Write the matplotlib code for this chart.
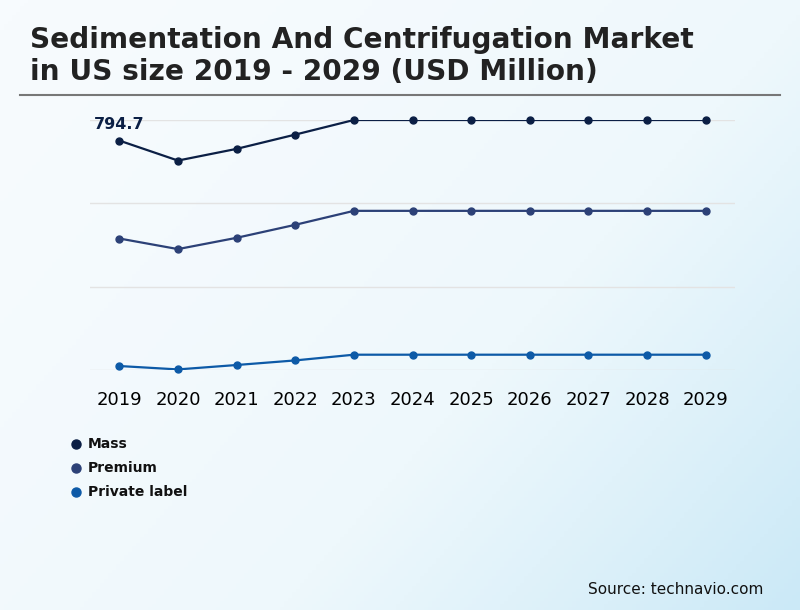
import numpy as np
import matplotlib
matplotlib.use('Agg')
import matplotlib.pyplot as plt
from matplotlib.colors import LinearSegmentedColormap

# data
years = [2019, 2020, 2021, 2022, 2023, 2024, 2025, 2026, 2027, 2028, 2029]
mass = [794.7, 725.5, 766.0, 815.4, 866.0, 866.0, 866.0, 866.0, 866.0, 866.0, 866.0]
premium = [455.5, 418.8, 457.9, 502.9, 551.3, 551.3, 551.3, 551.3, 551.3, 551.3, 551.3]
private_label = [13.8, 2.0, 17.3, 33.2, 53.0, 53.0, 53.0, 53.0, 53.0, 53.0, 53.0]
series_names = ['Mass', 'Premium', 'Private label']
colors = ['#0b1f45', '#2c4177', '#0d5aa7']
grid_vals = [0, 288.7, 577.3, 866.0]

fig = plt.figure(figsize=(8, 6.1), dpi=100)

# background gradient, white top-left to light blue bottom-right
bg = fig.add_axes([0, 0, 1, 1], zorder=-10)
xx, yy = np.meshgrid(np.linspace(0, 1, 200), np.linspace(0, 1, 200))
grad = np.clip((xx * 0.6 + yy * 0.4), 0, 1) ** 1.4
cmap = LinearSegmentedColormap.from_list('bg', ['#f7fbfe', '#eef8fc', '#cbe9f7'])
bg.imshow(grad, cmap=cmap, aspect='auto', extent=[0, 1, 0, 1], origin='upper')
bg.set_axis_off()

fig.text(30 / 800, 1 - 56 / 610, 'Sedimentation And Centrifugation Market\nin US size 2019 - 2029 (USD Million)',
         fontsize=20.2, fontweight='bold', color='#222222', va='center', ha='left', linespacing=1.17)
fig.add_artist(plt.Line2D([20 / 800, 780 / 800], [1 - 95 / 610, 1 - 95 / 610], color='#777777', lw=1.5))

ax = fig.add_axes([90 / 800, 1 - 370 / 610, 645 / 800, 250 / 610])
ax.set_facecolor('none')
ax.set_xlim(2018.5, 2029.5)
ax.set_ylim(0, 866.0)
for g in grid_vals:
    ax.axhline(g, color='#e3e3e3', lw=1, zorder=0)

for vals, c in zip([mass, premium, private_label], colors):
    ax.plot(years, vals, color=c, lw=1.6, zorder=3)
    ax.plot(years, vals, 'o', color=c, ms=5, zorder=4, clip_on=False)

ax.annotate('794.7', (years[0], mass[0]), xytext=(0, 6), textcoords='offset points',
            ha='center', va='bottom', fontsize=11.5, fontweight='bold', color=colors[0])

ax.set_xticks(years)
ax.set_xticklabels([str(y) for y in years], fontsize=13)
ax.tick_params(axis='x', length=0, pad=15)
ax.set_yticks([])
for s in ax.spines.values():
    s.set_visible(False)

for i, (name, c) in enumerate(zip(series_names, colors)):
    y = 1 - (444 + 24 * i) / 610
    fig.add_artist(plt.Line2D([76 / 800], [y], marker='o', color=c, ms=6.5, ls='none'))
    fig.text(88 / 800, y, name, fontsize=10, fontweight='bold', color='#111111', va='center', ha='left')

fig.text(763 / 800, 1 - 589 / 610, 'Source: technavio.com', fontsize=11, color='#111111',
         ha='right', va='center')

fig.savefig('out.png', dpi=100)
